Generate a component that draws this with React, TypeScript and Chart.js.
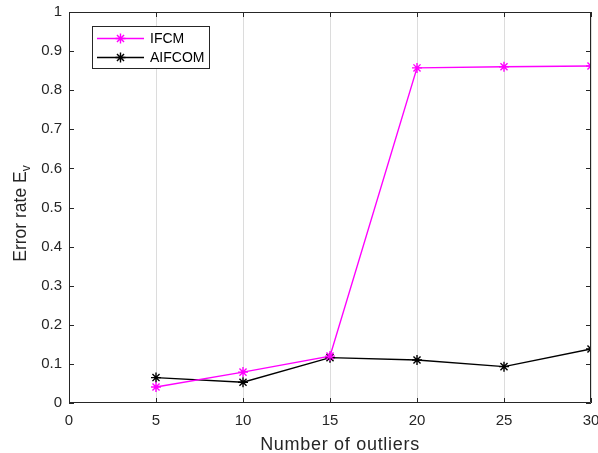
import React, { useEffect, useRef } from "react";
import { Chart, registerables } from "chart.js";

Chart.register(...registerables);

const outliers = [5, 10, 15, 20, 25, 30];
const ifcm = [0.041, 0.079, 0.12, 0.857, 0.86, 0.862];
const aifcom = [0.065, 0.053, 0.116, 0.11, 0.093, 0.138];
const seriesNames = ["IFCM", "AIFCOM"];
const xTitle = "Number of outliers";
const yTitle = "Error rate E";
const ySub = "v";

const FONT = "'Liberation Sans', Arial, Helvetica, sans-serif";

function drawStar(ctx: CanvasRenderingContext2D, x: number, y: number, r: number, color: string) {
  ctx.save();
  ctx.strokeStyle = color;
  ctx.lineWidth = 1.4;
  ctx.beginPath();
  ctx.moveTo(x - r, y);
  ctx.lineTo(x + r, y);
  ctx.moveTo(x, y - r);
  ctx.lineTo(x, y + r);
  const d = r * 0.7071;
  ctx.moveTo(x - d, y - d);
  ctx.lineTo(x + d, y + d);
  ctx.moveTo(x - d, y + d);
  ctx.lineTo(x + d, y - d);
  ctx.stroke();
  ctx.restore();
}

const frame = {
  id: "frame",
  afterDraw(chart: any) {
    const ctx = chart.ctx;
    const { left, right, top, bottom } = chart.chartArea;
    const xs = chart.scales.x;
    const ys = chart.scales.y;
    ctx.save();
    ctx.strokeStyle = "#262626";
    ctx.lineWidth = 1;
    ctx.beginPath();
    ctx.rect(Math.round(left) + 0.5, Math.round(top) + 0.5, Math.round(right - left) - 1, Math.round(bottom - top) - 1);
    ctx.stroke();
    const tl = 5;
    ctx.beginPath();
    xs.ticks.forEach((t: any) => {
      const px = Math.round(xs.getPixelForValue(t.value)) + 0.5;
      ctx.moveTo(px, bottom);
      ctx.lineTo(px, bottom - tl);
      ctx.moveTo(px, top);
      ctx.lineTo(px, top + tl);
    });
    ys.ticks.forEach((t: any) => {
      const py = Math.round(ys.getPixelForValue(t.value)) + 0.5;
      ctx.moveTo(left, py);
      ctx.lineTo(left + tl, py);
      ctx.moveTo(right, py);
      ctx.lineTo(right - tl, py);
    });
    ctx.stroke();

    // axis titles
    ctx.fillStyle = "#262626";
    ctx.font = `18px ${FONT}`;
    (ctx as any).letterSpacing = "0.7px";
    ctx.textAlign = "center";
    ctx.textBaseline = "alphabetic";
    ctx.fillText(xTitle, 340, 450);
    (ctx as any).letterSpacing = "0px";

    ctx.save();
    ctx.translate(25.5, 213.5);
    ctx.rotate(-Math.PI / 2);
    ctx.font = `17.5px ${FONT}`;
    const w1 = ctx.measureText(yTitle).width;
    ctx.font = `12px ${FONT}`;
    const w2 = ctx.measureText(ySub).width;
    const total = w1 + w2;
    ctx.textAlign = "left";
    ctx.textBaseline = "alphabetic";
    ctx.font = `17.5px ${FONT}`;
    ctx.fillText(yTitle, -total / 2, 0);
    ctx.font = `12px ${FONT}`;
    ctx.fillText(ySub, -total / 2 + w1, 4);
    ctx.restore();

    // legend
    const lx = 92.5, ly = 26.5, lw = 117, lh = 42;
    ctx.fillStyle = "#ffffff";
    ctx.fillRect(lx, ly, lw, lh);
    ctx.strokeStyle = "#262626";
    ctx.lineWidth = 1;
    ctx.strokeRect(lx, ly, lw, lh);
    const colors = ["#ff00ff", "#000000"];
    const rows = [38.5, 57.5];
    seriesNames.forEach((name, i) => {
      ctx.strokeStyle = colors[i];
      ctx.lineWidth = 1.4;
      ctx.beginPath();
      ctx.moveTo(97, rows[i]);
      ctx.lineTo(144, rows[i]);
      ctx.stroke();
      drawStar(ctx, 120.5, rows[i], 5, colors[i]);
      ctx.fillStyle = "#000000";
      ctx.font = `14px ${FONT}`;
      ctx.textAlign = "left";
      ctx.textBaseline = "middle";
      ctx.fillText(name, 150, rows[i] + 1);
    });
    ctx.restore();
  },
};

export default function App() {
  const ref = useRef<HTMLCanvasElement>(null);
  useEffect(() => {
    document.body.style.margin = "0";
    const toPts = (arr: number[]) => outliers.map((x, i) => ({ x, y: arr[i] }));
    const mk = (label: string, arr: number[], color: string) => ({
      label,
      data: toPts(arr),
      borderColor: color,
      backgroundColor: color,
      borderWidth: 1.4,
      pointStyle: "star" as const,
      pointRadius: 5,
      pointBorderWidth: 1.4,
      pointBorderColor: color,
      tension: 0,
    });
    const chart = new Chart(ref.current!, {
      type: "line",
      data: {
        datasets: [mk(seriesNames[0], ifcm, "#ff00ff"), mk(seriesNames[1], aifcom, "#000000")],
      },
      options: {
        animation: false,
        responsive: false,
        events: [],
        layout: { padding: { top: 12, right: 7, left: 0, bottom: 0 } },
        plugins: { legend: { display: false }, tooltip: { enabled: false } },
        scales: {
          x: {
            type: "linear",
            min: 0,
            max: 30,
            afterFit: (s: any) => {
              s.height = 50;
              s.paddingLeft = 0;
              s.paddingRight = 0;
            },
            ticks: {
              stepSize: 5,
              padding: 9,
              maxRotation: 0,
              color: "#262626",
              font: { family: FONT, size: 15 },
            },
            grid: { color: "#dcdcdc", lineWidth: 1, drawTicks: false },
            border: { display: false },
          },
          y: {
            type: "linear",
            min: 0,
            max: 1,
            afterFit: (s: any) => {
              s.width = 69;
              s.paddingTop = 0;
              s.paddingBottom = 0;
            },
            ticks: {
              stepSize: 0.1,
              padding: 7,
              color: "#262626",
              font: { family: FONT, size: 15 },
              callback: (v: any) => String(Math.round(Number(v) * 10) / 10),
            },
            grid: { display: false, drawTicks: false },
            border: { display: false },
          },
        },
      },
      plugins: [frame],
    });
    return () => chart.destroy();
  }, []);
  return (
    <div style={{ position: "fixed", left: 0, top: 0, width: 598, height: 453 }}>
      <canvas ref={ref} width={598} height={453} />
    </div>
  );
}
